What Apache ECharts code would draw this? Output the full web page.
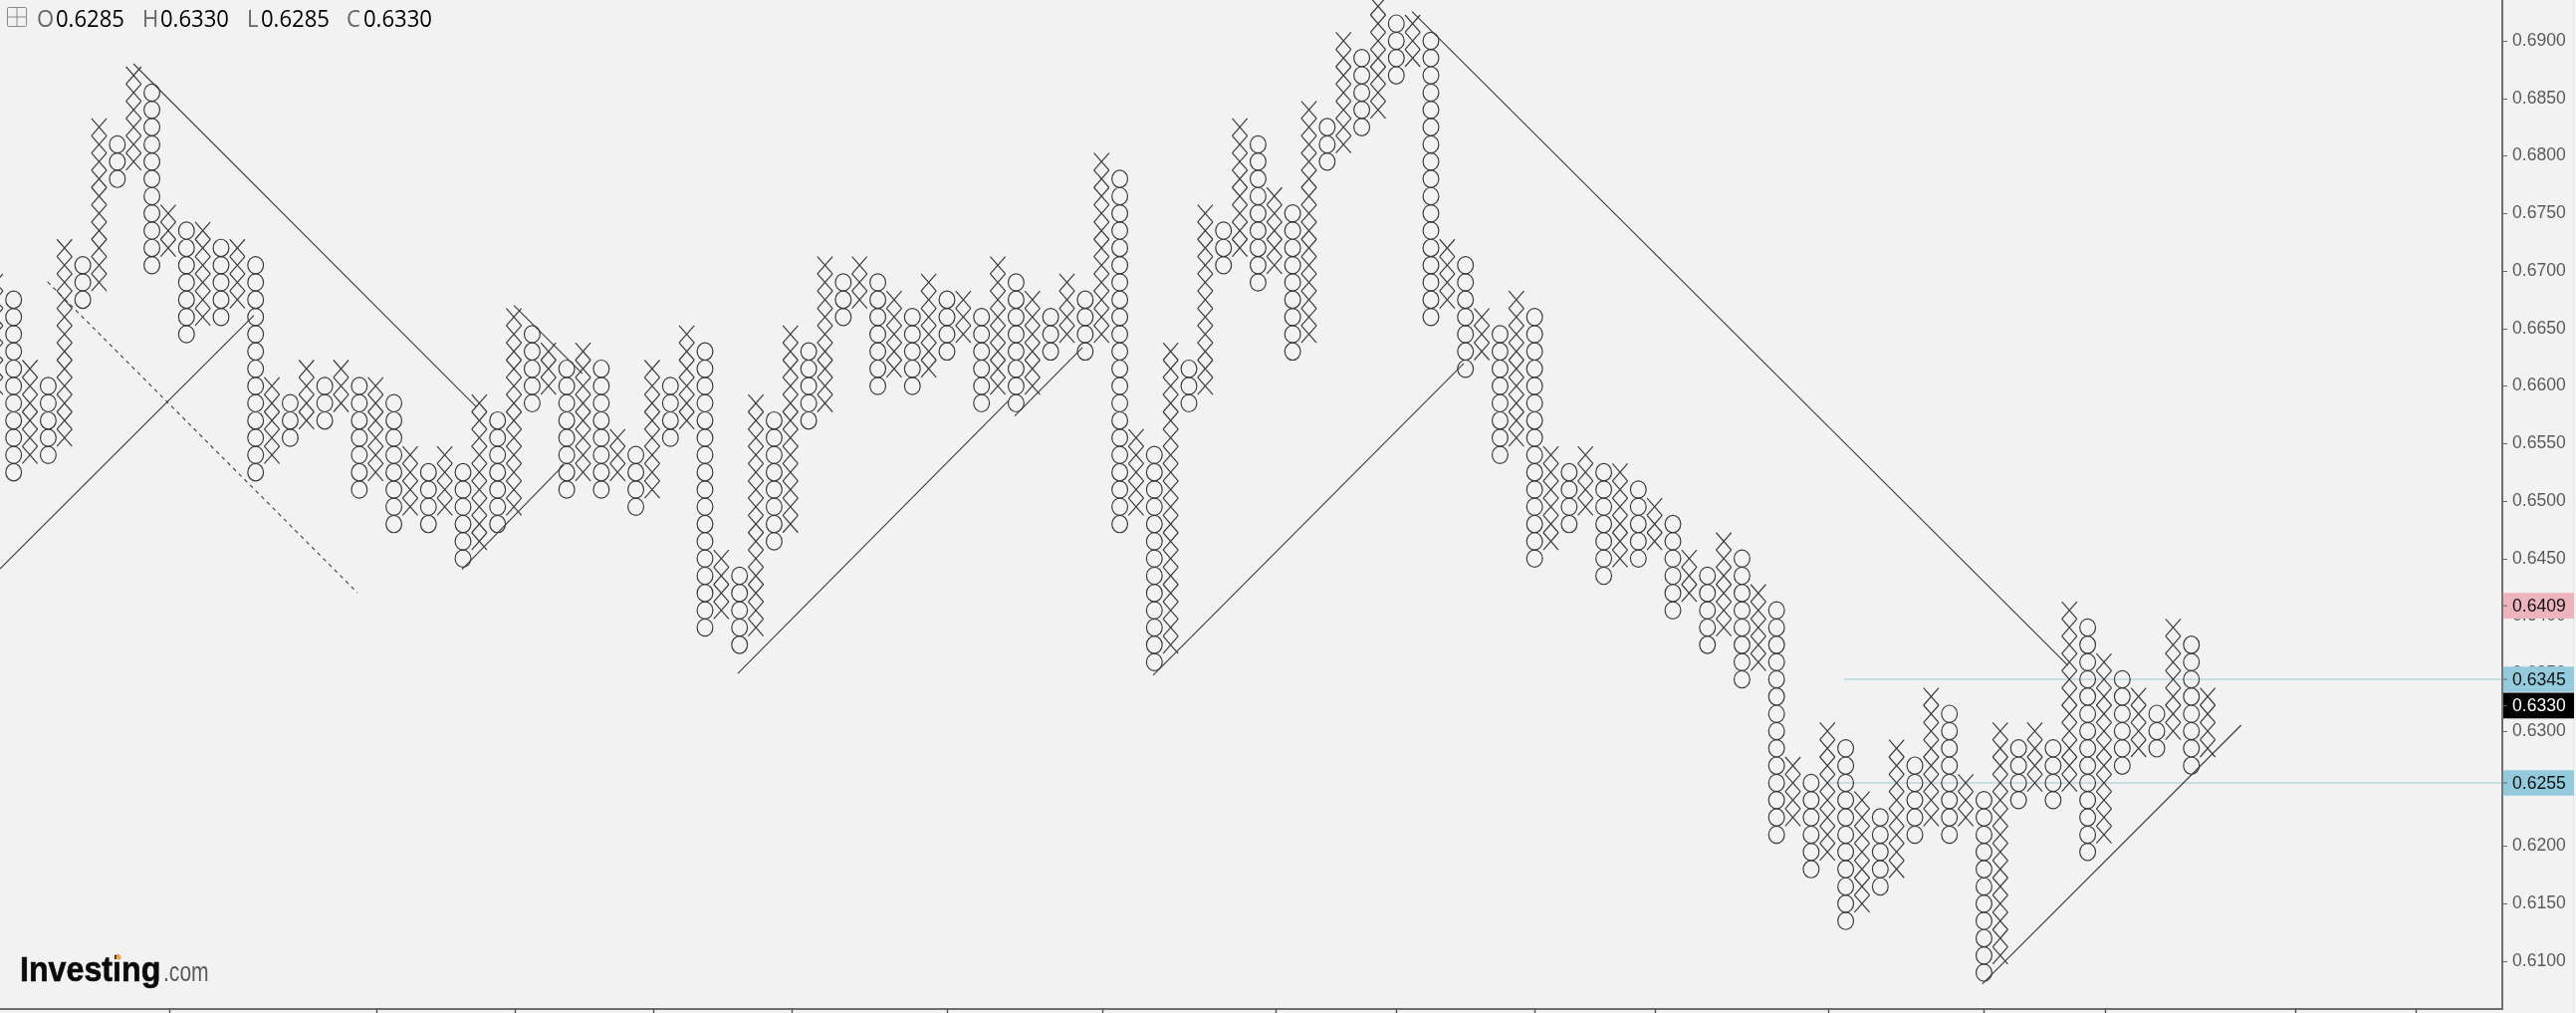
<!DOCTYPE html>
<html>
<head>
<meta charset="utf-8">
<style>html,body{margin:0;padding:0;background:#f2f2f2}#c{width:2587px;height:1017px}</style>
<script src="https://cdn.jsdelivr.net/npm/echarts@6/dist/echarts.min.js"></script>
</head>
<body>
<div id="c"></div>
<script>
const boxSize = 0.0015;
const columnTypes = "XOXOXOXOXO" + "XOXOXOXOXO" + "XOXOXOXOXO" + "XOXOXOXOXO" + "XOXOXOXOXO" + "XOXOXOXOXO" + "XOXOXOXOXO" + "XOXOXOXOXO" + "XOXOXOXOXO" + "XOXOXOXOXO" + "XOXOXOXOXO" + "XOXOXOXOXO" + "XOXOXOXOX";
const columnTopBox = [446,445,441,440,448,447,455,454,458,457,450,449,449,448,448,447,440,439,441,440,441,440,440,439,436,435,436,435,439,438,444,443,442,441,442,441,437,436,441,440,443,442,430,429,439,438,443,442,447,446,447,446,445,444,446,445,445,444,447,446,445,444,446,445,453,452,437,436,442,441,450,449,455,454,451,450,456,455,460,459,462,461,461,460,448,447,444,443,445,444,436,435,436,435,435,434,433,432,430,429,431,430,428,427,418,417,420,419,416,415,419,418,422,421,417,416,420,419,420,419,427,426,424,423,422,421,426,425,422];
const columnBottomBox = [440,435,436,436,437,445,446,452,453,447,448,443,444,444,445,435,436,437,438,438,439,434,435,432,433,432,433,430,431,432,433,439,440,434,435,434,435,433,434,437,438,426,427,425,426,431,432,438,439,444,445,440,441,440,441,442,443,439,440,439,440,442,443,442,443,432,433,424,425,439,440,447,448,446,447,442,443,453,454,455,456,458,459,444,445,441,442,436,437,430,431,432,433,429,430,430,431,427,428,425,426,423,424,414,415,412,413,409,410,411,412,414,415,414,415,406,407,416,417,416,417,413,414,418,419,419,420,418,419];
const axisTickColumns = [10,22,30,38,46,55,64,74,81,89,96,106,115,122,133,140];
const priceTicks = [0.61,0.615,0.62,0.625,0.63,0.635,0.64,0.645,0.65,0.655,0.66,0.665,0.67,0.675,0.68,0.685,0.69];
const solidTrendA = [[0.21,0.64411],[14.90,0.66613]];
const solidTrendB = [[7.93,0.68801],[27.75,0.65822]];
const solidTrendC = [[29.94,0.66700],[33.91,0.66108]];
const solidTrendD = [[26.94,0.64405],[32.82,0.65312]];
const solidTrendE = [[42.90,0.63502],[58.57,0.65874]];
const solidTrendF = [[58.92,0.65739],[62.84,0.66335]];
const solidTrendG = [[66.93,0.63485],[84.90,0.66195]];
const solidTrendH = [[81.91,0.69254],[119.86,0.63571]];
const solidTrendI = [[114.90,0.60801],[129.88,0.63052]];
const dashedTrend = [[2.96,0.66905],[20.89,0.64203]];
const levelHigh = [[106.91,0.6345],[144.99,0.6345]];
const levelLow = [[105.93,0.6255],[144.99,0.6255]];
const tagPrices = [0.6409,0.6345,0.6255,0.6330];
const tagFills = ['#eeb4bd','#93cbdc','#93cbdc','#000000'];
const tagTextFills = ['#111','#111','#111','#fff'];
const tagShiftPx = [0,0,0,9];

const xMin = 0.2107, xMax = 144.99, yMin = 0.605844, yMax = 0.69355;

const cells = [];
columnTopBox.forEach((top, i) => {
  for (let b = columnBottomBox[i]; b <= top; b++) cells.push([i, b * boxSize, columnTypes[i] === 'X' ? 1 : 0]);
});

function renderCell(params, api) {
  const c = api.coord([api.value(0), api.value(1)]);
  const h = api.size([0, boxSize])[1] / 2;
  const style = { stroke: '#3c3c3c', fill: null, lineWidth: 1.2 };
  if (api.value(2) === 1) {
    const x = c[0] - 1, w = 7.6;
    return { type: 'group', children: [
      { type: 'line', shape: { x1: x - w, y1: c[1] - h, x2: x + w, y2: c[1] + h }, style },
      { type: 'line', shape: { x1: x + w, y1: c[1] - h, x2: x - w, y2: c[1] + h }, style }
    ]};
  }
  return { type: 'ellipse', shape: { cx: c[0], cy: c[1], rx: 7.9, ry: h }, style };
}

function renderTag(params, api) {
  const i = params.dataIndex;
  const c = api.coord([xMax, api.value(0)]);
  const y = c[1] + tagShiftPx[i];
  return { type: 'group', children: [
    { type: 'rect', shape: { x: c[0], y: y - 12.8, width: 72, height: 25.6 }, style: { fill: tagFills[i] } },
    { type: 'line', shape: { x1: c[0], y1: y, x2: c[0] + 5, y2: y }, style: { stroke: '#666', lineWidth: 1 } },
    { type: 'rect', shape: { x: c[0] - 1, y: y - 12.8, width: 2, height: 25.6 }, style: { fill: '#777' } },
    { type: 'text', style: { text: api.value(0).toFixed(4), x: c[0] + 10, y: y + 1, fill: tagTextFills[i], font: '17.6px "Liberation Sans"', verticalAlign: 'middle', align: 'left' } }
  ]};
}

const lineSeries = (data, color, width, type, z) => ({
  type: 'line', data, symbol: 'none', silent: true, animation: false, z,
  lineStyle: { color, width, type }
});

const headerFont = '24px "Open Sans"';
const headerItems = [['O',37,'0.6285',56],['H',143,'0.6330',161],['L',248,'0.6285',262],['C',348,'0.6330',365]];
const graphicEls = [
  { type: 'rect', shape: { x: 7.5, y: 7.5, width: 19, height: 19, r: 1 }, style: { fill: 'none', stroke: '#8a8a8a', lineWidth: 1 } },
  { type: 'line', shape: { x1: 17, y1: 8, x2: 17, y2: 26 }, style: { stroke: '#8a8a8a', lineWidth: 1 } },
  { type: 'line', shape: { x1: 8, y1: 17, x2: 26, y2: 17 }, style: { stroke: '#8a8a8a', lineWidth: 1 } },
  { type: 'text', x: 20, y: 992.5, scaleX: 0.92, style: { text: 'Investing', fill: '#0b0b0b', font: 'bold 35px "Liberation Sans"', verticalAlign: 'bottom', stroke: '#0b0b0b', lineWidth: 0.6 } },
  { type: 'text', x: 164, y: 990.7, scaleX: 0.78, style: { text: '.com', fill: '#5a5a5a', font: '27px "Liberation Sans"', verticalAlign: 'bottom' } },
  { type: 'circle', shape: { cx: 119, cy: 961, r: 2.6 }, style: { fill: '#f0a63c' } },
  { type: 'line', shape: { x1: 2584.5, y1: 0, x2: 2584.5, y2: 1017 }, style: { stroke: '#e8e8e8', lineWidth: 1 } }
];
headerItems.forEach(([k, kx, v, vx]) => {
  graphicEls.push({ type: 'text', x: kx, y: 20, scaleX: 0.92, style: { text: k, fill: '#666', font: headerFont, verticalAlign: 'middle' } });
  graphicEls.push({ type: 'text', x: vx, y: 20, scaleX: 0.92, style: { text: v, fill: '#000', font: headerFont, verticalAlign: 'middle' } });
});

const chart = echarts.init(document.getElementById('c'), null, { renderer: 'canvas' });
chart.setOption({
  animation: false,
  backgroundColor: '#f2f2f2',
  grid: { left: 0, right: 74, top: 0, bottom: 4, containLabel: false },
  xAxis: {
    type: 'value', min: xMin, max: xMax, position: 'bottom',
    axisLine: { show: true, onZero: false, lineStyle: { color: '#6e6e6e', width: 2 } },
    axisTick: { show: true, length: 4, customValues: axisTickColumns, lineStyle: { color: '#555', width: 1.4 } },
    axisLabel: { show: false },
    splitLine: { show: false }
  },
  yAxis: {
    type: 'value', min: yMin, max: yMax, position: 'right',
    axisLine: { show: true, onZero: false, lineStyle: { color: '#6e6e6e', width: 2 } },
    axisTick: { show: true, length: 5, customValues: priceTicks, lineStyle: { color: '#666', width: 1 } },
    axisLabel: { show: true, margin: 10, padding: [3, 0, 0, 0], color: '#5a5a5a', fontFamily: 'Liberation Sans', fontSize: 17.6, customValues: priceTicks, formatter: v => v.toFixed(4) },
    splitLine: { show: false }
  },
  graphic: graphicEls,
  series: [
    lineSeries(levelHigh, '#c6dde5', 2, 'solid', 1),
    lineSeries(levelLow, '#c6dde5', 2, 'solid', 1),
    { type: 'custom', data: cells, renderItem: renderCell, silent: true, animation: false, z: 2, encode: { x: 0, y: 1 } },
    ...[solidTrendA, solidTrendB, solidTrendC, solidTrendD, solidTrendE, solidTrendF, solidTrendG, solidTrendH, solidTrendI].map(d => lineSeries(d, '#3c3c3c', 1.1, 'solid', 3)),
    lineSeries(dashedTrend, '#3c3c3c', 1.1, [4, 4], 3),
    { type: 'custom', data: tagPrices.map(p => [p]), renderItem: renderTag, silent: true, animation: false, z: 10, clip: false, encode: { y: 0 } }
  ]
});
</script>
</body>
</html>
